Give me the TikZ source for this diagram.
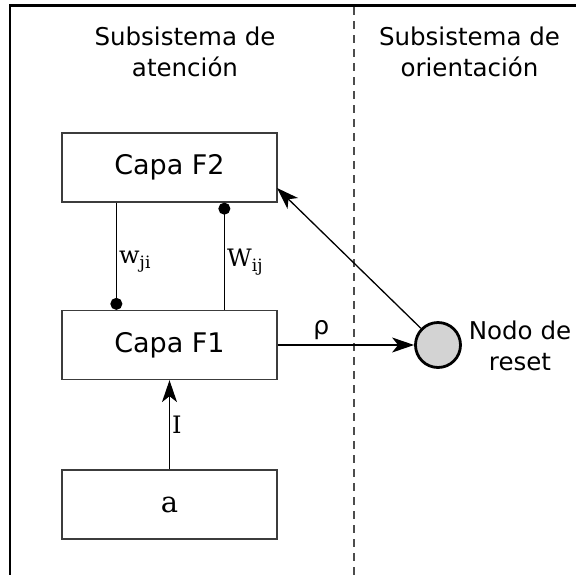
\documentclass[tikz,border=0pt]{standalone}
\usepackage{fontspec}
\setmainfont{DejaVu Sans}
\newfontfamily\serifface{DejaVu Serif}
\usetikzlibrary{arrows.meta,calc}
\definecolor{resetgray}{RGB}{211,211,211}
\definecolor{boxline}{RGB}{60,60,60}
\begin{document}
\begin{tikzpicture}[x=1pt,y=-1pt,
  layerbox/.style={draw=boxline,line width=1.3pt,minimum width=215pt,minimum height=69pt,inner sep=0pt,font=\fontsize{27}{31}\selectfont},
  headtxt/.style={align=center,inner sep=0pt,font=\fontsize{24.5}{31}\selectfont},
  conn/.style={line width=1.3pt,draw=black},
  arr/.style={conn,-{Stealth[length=22pt,width=15pt,inset=6pt]}},
  dotend/.style={conn,-{Circle[length=12pt,width=12pt]}},
  sublbl/.style={anchor=west,inner sep=0pt,font=\serifface\fontsize{24}{28}\selectfont}
]
\useasboundingbox (0,0) rectangle (576,574);
% frame
\coordinate (frbl) at (10,575);
\coordinate (frtl) at (10,5.5);
\coordinate (frtr) at (577,5.5);
\draw[line width=2.8pt,line cap=rect] (frbl) -- (frtl) -- (frtr);
% divider
\coordinate (dvt) at (354,7);
\coordinate (dvb) at (354,575);
\draw[line width=1.4pt,draw=black!70,dash pattern=on 8pt off 6pt] (dvt) -- (dvb);
% headers
\node[headtxt] (h1) at (185,52) {Subsistema de\\atención};
\node[headtxt] (h2) at (469.5,52) {Subsistema de\\orientación};
% boxes
\node[layerbox] (f2) at (169.5,167.5) {Capa F2};
\node[layerbox] (f1) at (169.5,345) {Capa F1};
\node[layerbox,font=\serifface\fontsize{29}{32}\selectfont] (a) at (169.5,504.5) {a};
% reset node
\node[circle,draw=black,line width=2.8pt,fill=resetgray,minimum size=45pt,inner sep=0pt] (reset) at (438,345) {};
\node[headtxt] (rlbl) at (520,346) {Nodo de\\reset};
% connections
\draw[dotend] ($(f2.south west)+(55,0)$) coordinate (wjitop) -- ($(f1.north west)+(55,0)$) coordinate (wjibot);
\draw[dotend] ($(f1.north west)+(163,0)$) coordinate (wijbot) -- ($(f2.south west)+(163,0)$) coordinate (wijtop);
\node[sublbl] (wji) at (119,262) {w\raisebox{-0.4ex}{\fontsize{17}{17}\selectfont ji}};
\node[sublbl] (wij) at (227,262) {W\raisebox{-0.4ex}{\fontsize{17}{17}\selectfont ij}};
\draw[arr] (a.north) -- node[sublbl,pos=0.5,xshift=2pt] (ilbl) {I} (f1.south);
\draw[arr] (f1.east) -- node[pos=0.32,above=5pt,inner sep=0pt,font=\fontsize{25}{28}\selectfont] (rho) {ρ} (reset.west);
\coordinate (f2in) at (277,188);
\draw[arr] (reset) -- (f2in);
\end{tikzpicture}
\end{document}
